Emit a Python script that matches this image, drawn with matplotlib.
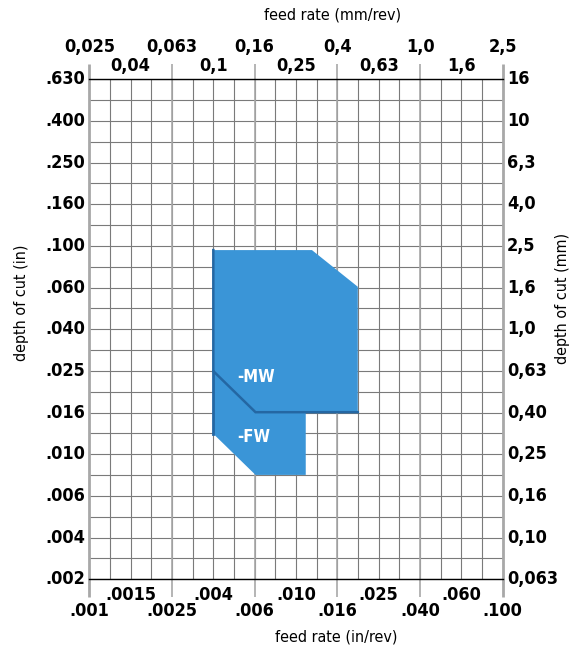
import numpy as np
import matplotlib
matplotlib.use("Agg")
import matplotlib.pyplot as plt

# tick labels, mm on top/right, inch on bottom/left (nominal R10 steps)
feed_mm_labels = ['0,025', '0,04', '0,063', '0,1', '0,16', '0,25', '0,4', '0,63', '1,0', '1,6', '2,5']
feed_in_labels = ['.001', '.0015', '.0025', '.004', '.006', '.010', '.016', '.025', '.040', '.060', '.100']
depth_in_labels = ['.002', '.004', '.006', '.010', '.016', '.025', '.040', '.060', '.100', '.160', '.250', '.400', '.630']
depth_mm_labels = ['0,063', '0,10', '0,16', '0,25', '0,40', '0,63', '1,0', '1,6', '2,5', '4,0', '6,3', '10', '16']

# chipbreaker application areas (feed mm/rev, depth of cut mm)
mw_feed = [0.1, 0.3, 0.5, 0.5, 0.16, 0.1]
mw_depth = [2.4, 2.4, 1.6, 0.4, 0.4, 0.63]
fw_feed = [0.1, 0.1, 0.16, 0.28, 0.28, 0.16]
fw_depth = [0.63, 0.315, 0.2, 0.2, 0.4, 0.4]

FONT = ['DejaVu Sans']
STRETCH = 'condensed'
GRID = '#7a7a7a'
FRAME = '#a8a8a8'
BLUE = '#3a95d7'
SHADE = '#2467a3'

# log positions: 0.1 decade grid, labels every 0.2 decade
x_grid = 10 ** (-1.6 + 0.1 * np.arange(21))
y_grid = 10 ** (-1.2 + 0.1 * np.arange(25))
x_lab = 10 ** (-1.6 + 0.2 * np.arange(len(feed_mm_labels)))
y_lab = 10 ** (-1.2 + 0.2 * np.arange(len(depth_mm_labels)))

W, H = 574, 652
L, R, T, B = 89.3, 502.7, 79.3, 579.3
fig = plt.figure(figsize=(W / 100, H / 100), dpi=100)
ax = fig.add_axes([L / W, 1 - B / H, (R - L) / W, (B - T) / H])
ax.set_xscale('log')
ax.set_yscale('log')
ax.set_xlim(x_grid[0], x_grid[-1])
ax.set_ylim(y_grid[0], y_grid[-1])

ax.set_xticks(x_grid)
ax.set_yticks(y_grid)
ax.minorticks_off()
ax.tick_params(length=0, labelbottom=False, labelleft=False)
ax.grid(True, color=GRID, lw=0.8)
ax.set_axisbelow(True)

for s in ['left', 'right']:
    ax.spines[s].set_visible(False)
for s in ['top', 'bottom']:
    ax.spines[s].set_color('black')
    ax.spines[s].set_linewidth(1.0)


def py(p):
    # pixel row -> axes fraction
    return (B - p) / (B - T)


xt = ax.get_xaxis_transform()
yt = ax.get_yaxis_transform()

# long ticks above and below the frame
for i, xv in enumerate(x_lab):
    if i % 2 == 0:
        lw = 2.0 if i in (0, len(x_lab) - 1) else 1.2
        ax.plot([xv, xv], [py(597), py(64)], color=FRAME, lw=lw, transform=xt,
                clip_on=False, zorder=1, solid_capstyle='butt')

# polygons
ax.fill(fw_feed, fw_depth, color=BLUE, zorder=3, lw=0)
ax.fill(mw_feed, mw_depth, color=BLUE, zorder=4, lw=0)
ax.plot([fw_feed[0], fw_feed[1]], [fw_depth[0], fw_depth[1]], color=SHADE, lw=2, zorder=5)
ax.plot([mw_feed[0], mw_feed[-1], mw_feed[-2], mw_feed[-3]],
        [mw_depth[0], mw_depth[-1], mw_depth[-2], mw_depth[-3]],
        color=SHADE, lw=1.8, zorder=5, solid_joinstyle='miter')
ax.text(0.13, 0.59, '-MW', color='white', fontsize=12, fontweight='bold',
        family=FONT, stretch=STRETCH, va='center', ha='left', zorder=6)
ax.text(0.13, 0.304, '-FW', color='white', fontsize=12, fontweight='bold',
        family=FONT, stretch=STRETCH, va='center', ha='left', zorder=6)

# top labels (mm/rev)
for i, (xv, t) in enumerate(zip(x_lab, feed_mm_labels)):
    yy = py(47) if i % 2 == 0 else py(66)
    ax.text(xv, yy, t, transform=xt, ha='center', va='center', fontsize=13,
            fontweight='bold', family=FONT, stretch=STRETCH)
# bottom labels (in/rev)
for i, (xv, t) in enumerate(zip(x_lab, feed_in_labels)):
    yy = py(611) if i % 2 == 0 else py(595)
    ax.text(xv, yy, t, transform=xt, ha='center', va='center', fontsize=13,
            fontweight='bold', family=FONT, stretch=STRETCH)
# side labels
for yv, tin, tmm in zip(y_lab, depth_in_labels, depth_mm_labels):
    ax.text(-4.5 / (R - L), yv, tin, transform=yt, ha='right', va='center',
            fontsize=13, fontweight='bold', family=FONT, stretch=STRETCH)
    ax.text(1 + 4.5 / (R - L), yv, tmm, transform=yt, ha='left', va='center',
            fontsize=13, fontweight='bold', family=FONT, stretch=STRETCH)

fig.text(333 / W, 1 - 15 / H, 'feed rate (mm/rev)', ha='center', va='center',
         fontsize=11.5, family=FONT, stretch=STRETCH)
fig.text(336 / W, 1 - 637 / H, 'feed rate (in/rev)', ha='center', va='center',
         fontsize=11.5, family=FONT, stretch=STRETCH)
fig.text(22 / W, 1 - 303 / H, 'depth of cut (in)', ha='center', va='center',
         rotation=90, fontsize=11.5, family=FONT, stretch=STRETCH)
fig.text(562 / W, 1 - 298 / H, 'depth of cut (mm)', ha='center', va='center',
         rotation=90, fontsize=11.5, family=FONT, stretch=STRETCH)

fig.savefig('out.png', dpi=100, facecolor='white')
